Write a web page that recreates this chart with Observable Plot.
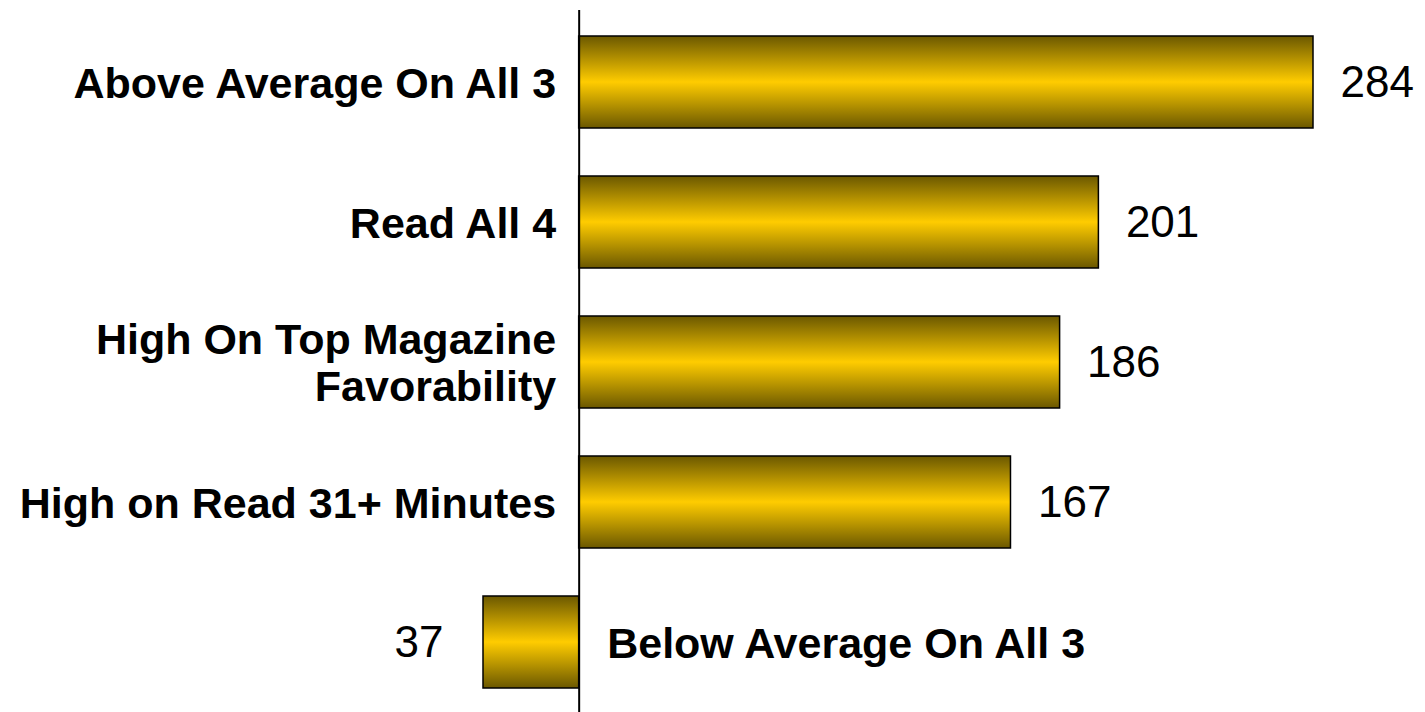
<!DOCTYPE html>
<html>
<head>
<meta charset="utf-8">
<script src="https://cdn.jsdelivr.net/npm/d3@7"></script>
<script src="https://cdn.jsdelivr.net/npm/@observablehq/plot@0.6"></script>
<style>
  html, body { margin: 0; padding: 0; background: #fff; }
</style>
</head>
<body>
<div id="chart"></div>
<script>
const categories = [
  "Above Average On All 3",
  "Read All 4",
  "High On Top Magazine\nFavorability",
  "High on Read 31+ Minutes",
  "Below Average On All 3"
];
const values = [284, 201, 186, 167, -37];
const valueLabels = ["284", "201", "186", "167", "37"];

const data = categories.map((c, i) => ({category: c, value: values[i], label: valueLabels[i]}));
const pos = data.filter(d => d.value > 0);
const neg = data.filter(d => d.value < 0);

const font = "'Liberation Sans', Arial, Helvetica, sans-serif";

const chart = Plot.plot({
  width: 1425,
  height: 712,
  marginTop: 10,
  marginBottom: 0,
  marginLeft: 0,
  marginRight: 0,
  style: {fontFamily: font, background: "#fff", color: "#000"},
  x: {domain: [-37, 284], range: [483, 1313], axis: null},
  y: {domain: categories, range: [11, 713], paddingInner: 0.34, paddingOuter: 0.17, axis: null},
  marks: [
    Plot.barX(data, {x: "value", y: "category", fill: "url(#goldGrad)", stroke: "#000", strokeWidth: 1.5}),
    Plot.ruleX([0], {stroke: "#000", strokeWidth: 2}),
    Plot.text(pos, {x: "value", y: "category", text: "label", textAnchor: "start", dx: 27, fontSize: 44, fill: "#000"}),
    Plot.text(neg, {x: "value", y: "category", text: "label", textAnchor: "end", dx: -40, fontSize: 44, fill: "#000"}),
    Plot.text(pos, {x: d => 0, y: "category", text: "category", textAnchor: "end", dx: -23, fontSize: 43, fontWeight: "bold", lineHeight: 1.1, fill: "#000"}),
    Plot.text(neg, {x: d => 0, y: "category", text: "category", textAnchor: "start", dx: 28, fontSize: 43, fontWeight: "bold", lineHeight: 1.1, fill: "#000"})
  ]
});

const defs = d3.select(chart).insert("defs", ":first-child");
const grad = defs.append("linearGradient").attr("id", "goldGrad").attr("x1", 0).attr("y1", 0).attr("x2", 0).attr("y2", 1);
[[0, "#6b5800"], [0.5, "#ffcc00"], [1, "#6b5800"]].forEach(([o, c]) => grad.append("stop").attr("offset", o).attr("stop-color", c));

document.getElementById("chart").appendChild(chart);
</script>
</body>
</html>
